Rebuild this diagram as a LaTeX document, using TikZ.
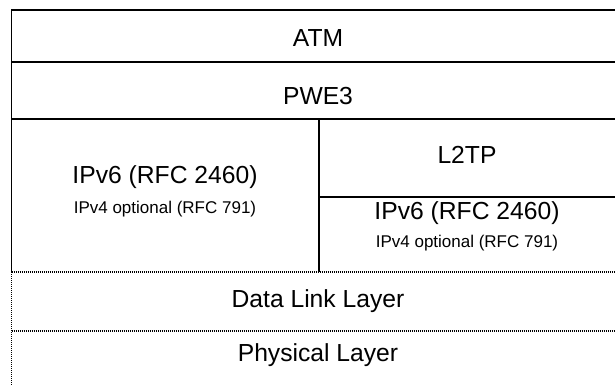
\documentclass[tikz,border=0pt]{standalone}
\usepackage{fontspec}
\setmainfont{Liberation Sans}
\tikzset{
  layertext/.style={anchor=center,inner sep=0.75pt,font=\fontsize{18.5}{22}\selectfont},
  notetext/.style={anchor=center,inner sep=0.75pt,font=\fontsize{12.75}{15}\selectfont},
  solidrule/.style={line width=1pt},
  dotrule/.style={line width=1.1pt,dash pattern=on 0.75pt off 0.75pt}
}
\begin{document}
\begin{tikzpicture}[x=0.75pt,y=0.75pt,yscale=-1,xscale=1]
%set diagram to 615 x 385
\useasboundingbox (0,0) rectangle (615,385);

%Straight Lines: top part of the stack
\draw [solidrule] (615,10) -- (11.5,10) -- (11.5,272) ;
\draw [solidrule] (11.5,62) -- (615,62) ;
\draw [solidrule] (11.5,119) -- (615,119) ;
\draw [solidrule] (319,119) -- (319,272) ;
\draw [solidrule] (319,197) -- (615,197) ;
%Dotted Lines: link and physical layers
\draw [dotrule] (11.5,272) -- (615,272) ;
\draw [dotrule] (11.5,331) -- (615,331) ;
\draw [dotrule] (11.5,272) -- (11.5,385) ;

% Text Node
\draw (318,38) node [layertext] (atm) {ATM};
% Text Node
\draw (318,96) node [layertext] (pwe) {PWE3};
% Text Node
\draw (165,177) node [layertext] (ipleft) {IPv6 (RFC 2460)};
% Text Node
\draw (165,209) node [notetext] (optleft) {IPv4 optional (RFC 791)};
% Text Node
\draw (467,155) node [layertext] (ltp) {L2TP};
% Text Node
\draw (467,213) node [layertext] (ipright) {IPv6 (RFC 2460)};
% Text Node
\draw (467,243) node [notetext] (optright) {IPv4 optional (RFC 791)};
% Text Node
\draw (318,301) node [layertext] (link) {Data Link Layer};
% Text Node
\draw (318,355) node [layertext] (phys) {Physical Layer};

\end{tikzpicture}
\end{document}
